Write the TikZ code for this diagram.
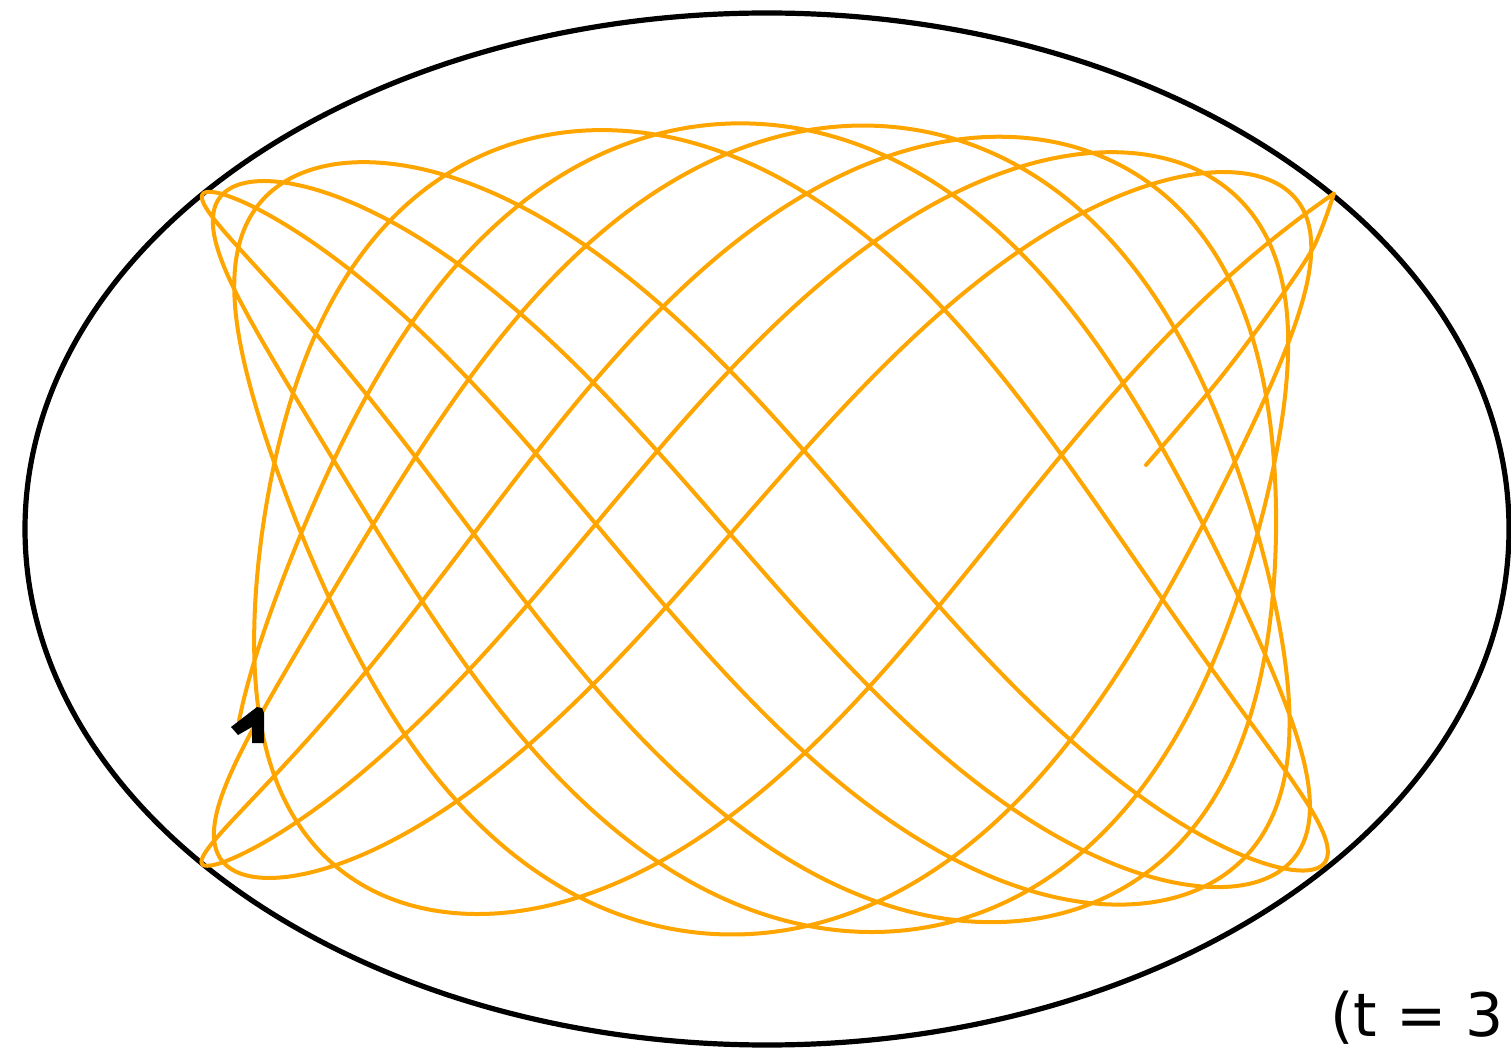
\documentclass[tikz,border=0pt]{standalone}
\usepackage{fontspec}
\setmainfont{DejaVu Sans}
\begin{document}
\begin{tikzpicture}[x=0.5pt,y=-0.5pt,
  declare function={
    pp(\t)=cos(deg(\t));
    qq(\t)=cos(deg(1.438*\t));
    ux(\t)=767+743*0.763*pp(\t)*(1-0.102*(1-qq(\t)*qq(\t)));
    vy(\t)=529-516*0.65*qq(\t)*(1+0.21*(1-pp(\t)*pp(\t)));
  },
  trail/.style={draw={rgb,255:red,255;green,165;blue,0},line width=2pt,line join=round,line cap=round},
  rim/.style={draw=black,line width=2.6pt}]
\useasboundingbox (0,0) rectangle (1511,1053);
\clip (0,0) rectangle (1511,1053);
\draw[rim] (767,529) ellipse [x radius=742, y radius=516];
\draw[trail] plot[domain=-40.84:0,samples=1600,smooth,variable=\t] ({ux(\t)},{vy(\t)});
\coordinate (corner) at (1333.9,193.6);
\coordinate (tip) at (1146,465);
\draw[trail] plot[smooth] coordinates {(corner) (1313,248) (1270,312) (1217,382) (tip)};
\fill[black] (231,727) -- (257,707) -- (262,708) -- (264,713) -- (264,743) -- (252,743) -- (252,727) -- (238,735) -- cycle;
\node[anchor=base west,font=\fontsize{30pt}{36pt}\selectfont,inner sep=0pt] (lbl) at (1330,1036) {(t = 3};
\end{tikzpicture}
\end{document}
